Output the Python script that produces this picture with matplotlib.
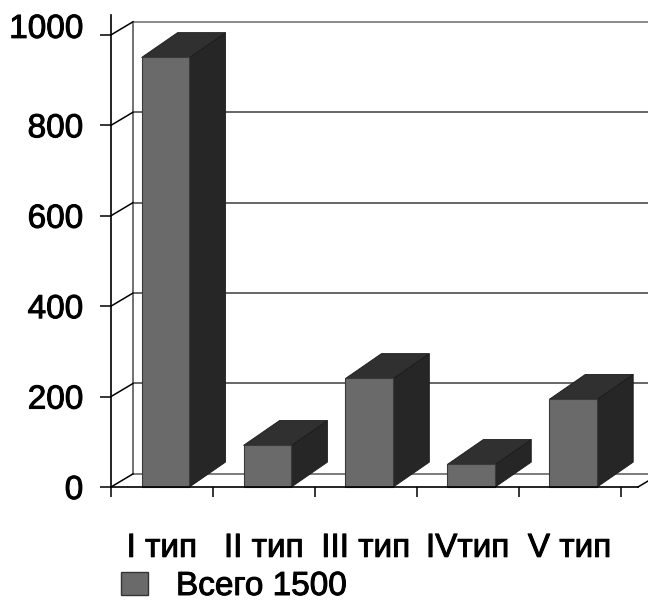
import matplotlib
matplotlib.use("Agg")
import matplotlib.pyplot as plt
import matplotlib.patheffects as pe
from matplotlib.patches import Polygon, Rectangle, Patch
from matplotlib.transforms import ScaledTranslation

plt.rcParams['font.family'] = ['Liberation Sans', 'DejaVu Sans']

# ---- data ----
categories = ["I тип", "II тип", "III тип", "IVтип", "V тип"]
values = [950, 92, 240, 50, 194]
yticks = [0, 200, 400, 600, 800, 1000]
legend_label = "Всего 1500"

# ---- style ----
front_color = "#6a6a6a"
side_color = "#262626"
top_color = "#303030"
grid_color = "#666666"
FS = 24
heavy = [pe.withStroke(linewidth=0.7, foreground="black")]

W, H = 648, 604
fig = plt.figure(figsize=(W / 100, H / 100), dpi=100)
ax = fig.add_axes([111 / W, 117 / H, (638 - 111) / W, (589 - 117) / H])
ax.set_xlim(0, 5.17)
ax.set_ylim(0, 1044)

# depth offsets (in data units)
wall_dx, wall_dy = 0.216, 29
bar_dx, bar_dy = 0.353, 55
bar_off, bar_w = 0.30, 0.47

# back wall + floor
x_end = 5.17
ax.plot([wall_dx, wall_dx], [wall_dy, 1000 + wall_dy], color=grid_color, lw=1.3,
        clip_on=False, zorder=1)
for v in yticks:
    ax.plot([wall_dx, x_end + wall_dx], [v + wall_dy, v + wall_dy],
            color=(grid_color if v != 1000 else "#8a8a8a"), lw=1.4 if v else 1.2,
            clip_on=False, zorder=1)
    ax.plot([0, wall_dx], [v, v + wall_dy], color="black", lw=1.1,
            clip_on=False, zorder=2)
ax.plot([x_end, x_end + wall_dx], [0, wall_dy], color="black", lw=1.1,
        clip_on=False, zorder=2)

# 3D bars
for i, v in enumerate(values):
    x0 = i + bar_off
    x1 = x0 + bar_w
    side = Polygon([(x1, 0), (x1 + bar_dx, bar_dy), (x1 + bar_dx, v + bar_dy), (x1, v)],
                   closed=True, facecolor=side_color, edgecolor="#1a1a1a", lw=0.6,
                   clip_on=False, zorder=3)
    top = Polygon([(x0, v), (x0 + bar_dx, v + bar_dy), (x1 + bar_dx, v + bar_dy), (x1, v)],
                  closed=True, facecolor=top_color, edgecolor="#1a1a1a", lw=0.6,
                  clip_on=False, zorder=3)
    front = Rectangle((x0, 0), bar_w, v, facecolor=front_color, edgecolor="#3a3a3a",
                      lw=0.8, clip_on=False, zorder=4)
    ax.add_patch(side)
    ax.add_patch(top)
    ax.add_patch(front)

# axes styling
for s in ["top", "right"]:
    ax.spines[s].set_visible(False)
for s in ["left", "bottom"]:
    ax.spines[s].set_color("black")
    ax.spines[s].set_linewidth(1.2)
    ax.spines[s].set_zorder(5)
ax.patch.set_visible(False)

ax.set_yticks(yticks)
ax.set_yticklabels([str(t) for t in yticks], fontsize=FS)
ax.tick_params(axis="y", direction="out", length=8, width=1.1, pad=12, colors="black")
# lift top label slightly as in the reference
ax.get_yticklabels()[-1].set_transform(
    ax.get_yticklabels()[-1].get_transform() + ScaledTranslation(0, 9 / 100, fig.dpi_scale_trans))

ax.set_xticks([i + 0.5 for i in range(len(categories))])
ax.set_xticklabels(categories, fontsize=FS)
ax.set_xticks(list(range(len(categories) + 1)), minor=True)
ax.tick_params(axis="x", which="major", length=0, pad=33)
ax.tick_params(axis="x", which="minor", direction="out", length=7.5, width=1.1)

leg = ax.legend(handles=[Patch(facecolor=front_color, edgecolor="#333333", lw=1)],
                labels=[legend_label], loc="upper left",
                bbox_to_anchor=(121 / W, 1 - 571 / H), bbox_transform=fig.transFigure,
                frameon=False, fontsize=FS, handlelength=0.8, handleheight=0.7,
                handletextpad=0.85, borderpad=0, borderaxespad=0)

for t in ax.get_xticklabels() + ax.get_yticklabels() + leg.get_texts():
    t.set_path_effects(heavy)

fig.savefig("out.png", dpi=100)
